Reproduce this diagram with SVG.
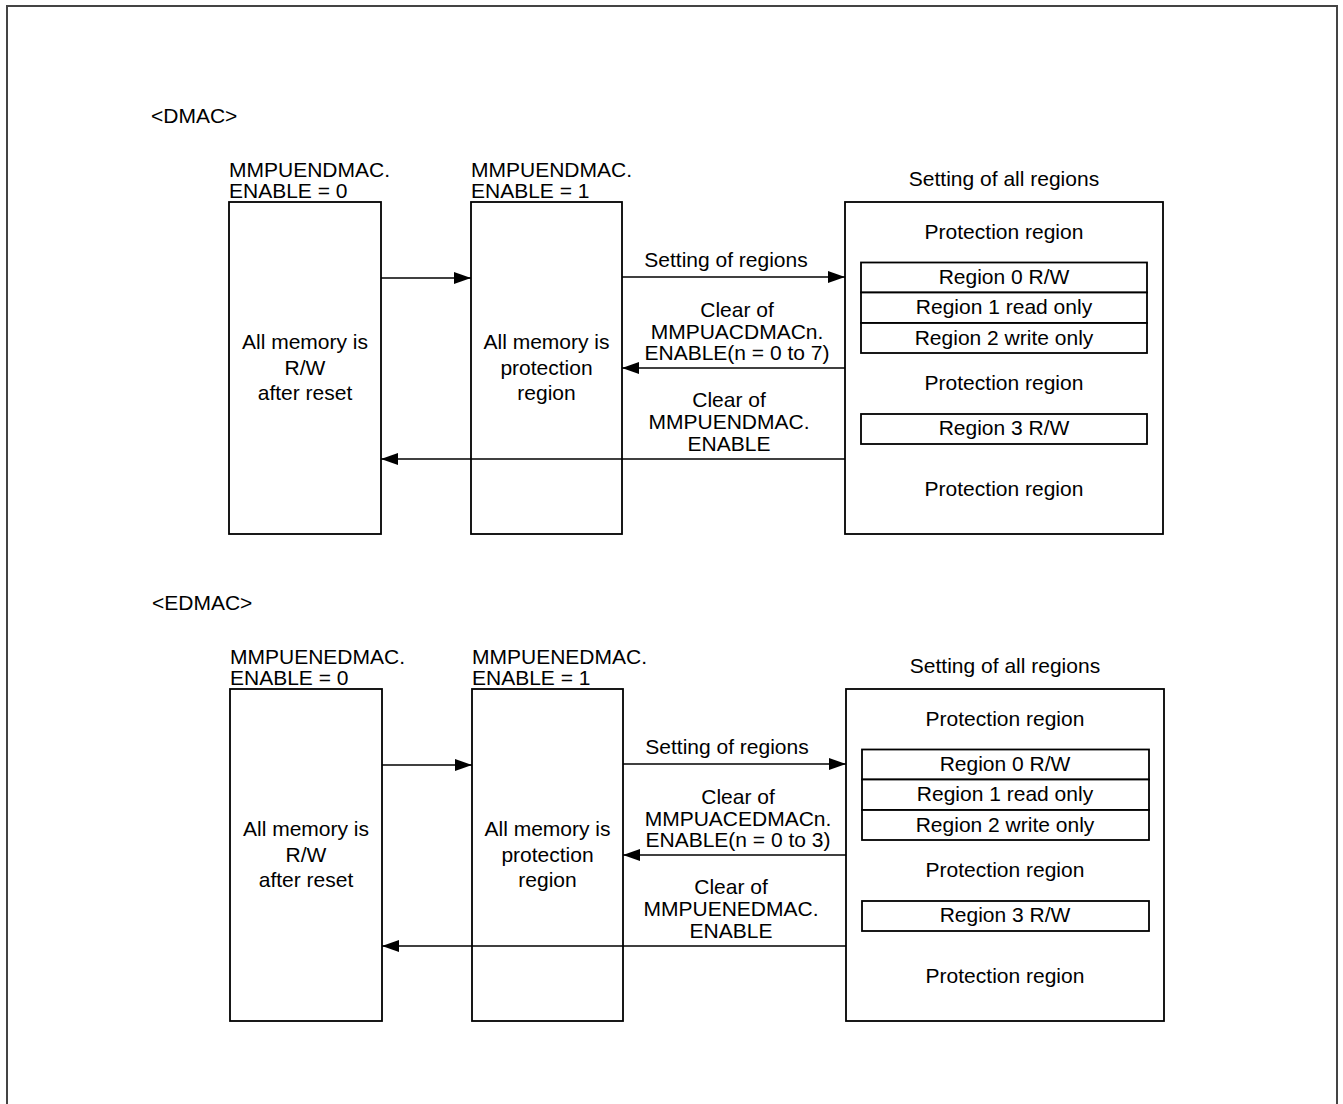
<svg xmlns="http://www.w3.org/2000/svg" width="1343" height="1104" viewBox="0 0 1343 1104">
<style>
text{font-family:"Liberation Sans",Arial,sans-serif;font-size:21px;fill:#000}
.c{text-anchor:middle}
.box{fill:#fff;stroke:#000;stroke-width:1.8}
.ln{fill:none;stroke:#000;stroke-width:1.6}
</style>
<defs>
<marker id="ah" markerUnits="userSpaceOnUse" markerWidth="18" markerHeight="12" refX="17" refY="6" orient="auto">
<path d="M0,0 L17,6 L0,12 Z" fill="#000"/>
</marker>
</defs>
<rect x="7" y="6" width="1330" height="1130" fill="none" stroke="#444" stroke-width="2"/>

<g id="dmac">
<text x="151" y="123">&lt;DMAC&gt;</text>
<g id="dmac-off">
<text x="229" y="177">MMPUENDMAC.</text>
<text x="229" y="198">ENABLE = 0</text>
<rect class="box" x="229" y="202" width="152" height="332"/>
<text class="c" x="305" y="349">All memory is</text>
<text class="c" x="305" y="374.5">R/W</text>
<text class="c" x="305" y="400">after reset</text>
</g>
<g id="dmac-on">
<text x="471" y="177">MMPUENDMAC.</text>
<text x="471" y="198">ENABLE = 1</text>
<rect class="box" x="471" y="202" width="151" height="332"/>
<text class="c" x="546.5" y="349">All memory is</text>
<text class="c" x="546.5" y="374.5">protection</text>
<text class="c" x="546.5" y="400">region</text>
</g>
<g id="dmac-regions">
<text class="c" x="1004" y="186">Setting of all regions</text>
<rect class="box" x="845" y="202" width="318" height="332"/>
<text class="c" x="1004" y="239">Protection region</text>
<rect class="box" x="861" y="262.5" width="286" height="30"/>
<text class="c" x="1004" y="284">Region 0 R/W</text>
<rect class="box" x="861" y="292.5" width="286" height="30.5"/>
<text class="c" x="1004" y="314">Region 1 read only</text>
<rect class="box" x="861" y="323" width="286" height="30"/>
<text class="c" x="1004" y="345">Region 2 write only</text>
<text class="c" x="1004" y="390">Protection region</text>
<rect class="box" x="861" y="414" width="286" height="30"/>
<text class="c" x="1004" y="435">Region 3 R/W</text>
<text class="c" x="1004" y="496">Protection region</text>
</g>
<g id="dmac-connectors">
<line class="ln" x1="381" y1="278" x2="471" y2="278" marker-end="url(#ah)"/>
<line class="ln" x1="622" y1="277" x2="845" y2="277" marker-end="url(#ah)"/>
<text class="c" x="726" y="267">Setting of regions</text>
<line class="ln" x1="845" y1="368" x2="622" y2="368" marker-end="url(#ah)"/>
<text class="c" x="737" y="317">Clear of</text>
<text class="c" x="737" y="338.5">MMPUACDMACn.</text>
<text class="c" x="737" y="360">ENABLE(n = 0 to 7)</text>
<line class="ln" x1="845" y1="459" x2="381" y2="459" marker-end="url(#ah)"/>
<text class="c" x="729" y="407">Clear of</text>
<text class="c" x="729" y="429">MMPUENDMAC.</text>
<text class="c" x="729" y="451">ENABLE</text>
</g>
</g>

<g id="edmac" transform="translate(0,487)">
<text x="152" y="123">&lt;EDMAC&gt;</text>
<g id="edmac-off">
<text x="230" y="177">MMPUENEDMAC.</text>
<text x="230" y="198">ENABLE = 0</text>
<rect class="box" x="230" y="202" width="152" height="332"/>
<text class="c" x="306" y="349">All memory is</text>
<text class="c" x="306" y="374.5">R/W</text>
<text class="c" x="306" y="400">after reset</text>
</g>
<g id="edmac-on">
<text x="472" y="177">MMPUENEDMAC.</text>
<text x="472" y="198">ENABLE = 1</text>
<rect class="box" x="472" y="202" width="151" height="332"/>
<text class="c" x="547.5" y="349">All memory is</text>
<text class="c" x="547.5" y="374.5">protection</text>
<text class="c" x="547.5" y="400">region</text>
</g>
<g id="edmac-regions">
<text class="c" x="1005" y="186">Setting of all regions</text>
<rect class="box" x="846" y="202" width="318" height="332"/>
<text class="c" x="1005" y="239">Protection region</text>
<rect class="box" x="862" y="262.5" width="287" height="30"/>
<text class="c" x="1005" y="284">Region 0 R/W</text>
<rect class="box" x="862" y="292.5" width="287" height="30.5"/>
<text class="c" x="1005" y="314">Region 1 read only</text>
<rect class="box" x="862" y="323" width="287" height="30"/>
<text class="c" x="1005" y="345">Region 2 write only</text>
<text class="c" x="1005" y="390">Protection region</text>
<rect class="box" x="862" y="414" width="287" height="30"/>
<text class="c" x="1005" y="435">Region 3 R/W</text>
<text class="c" x="1005" y="496">Protection region</text>
</g>
<g id="edmac-connectors">
<line class="ln" x1="382" y1="278" x2="472" y2="278" marker-end="url(#ah)"/>
<line class="ln" x1="623" y1="277" x2="846" y2="277" marker-end="url(#ah)"/>
<text class="c" x="727" y="267">Setting of regions</text>
<line class="ln" x1="846" y1="368" x2="623" y2="368" marker-end="url(#ah)"/>
<text class="c" x="738" y="317">Clear of</text>
<text class="c" x="738" y="338.5">MMPUACEDMACn.</text>
<text class="c" x="738" y="360">ENABLE(n = 0 to 3)</text>
<line class="ln" x1="846" y1="459" x2="382" y2="459" marker-end="url(#ah)"/>
<text class="c" x="731" y="407">Clear of</text>
<text class="c" x="731" y="429">MMPUENEDMAC.</text>
<text class="c" x="731" y="451">ENABLE</text>
</g>
</g>
</svg>
